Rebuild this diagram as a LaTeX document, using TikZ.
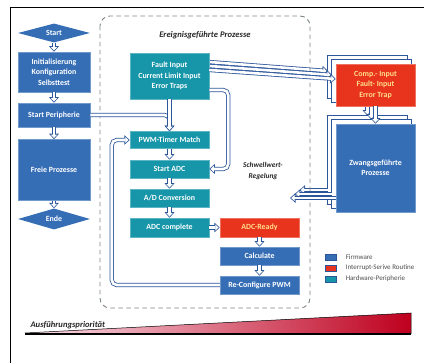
\documentclass[tikz,border=0pt]{standalone}
\usepackage{fontspec}
\setmainfont{Carlito}
\usetikzlibrary{shapes.geometric,arrows.meta,positioning,backgrounds}
\definecolor{fwblue}{RGB}{54,110,182}
\definecolor{hwteal}{RGB}{22,150,168}
\definecolor{isrred}{RGB}{232,52,28}
\definecolor{isrtext}{RGB}{255,222,140}
\definecolor{arrowblue}{RGB}{44,86,154}
\definecolor{dashgray}{RGB}{125,132,132}
\definecolor{prioleft}{RGB}{250,225,235}
\definecolor{priomid}{RGB}{225,50,115}
\definecolor{prioright}{RGB}{190,0,30}
\tikzset{
  box/.style={rectangle, text=white, font=\fontsize{7.9}{10.5}\selectfont\bfseries, align=center, inner sep=0pt, line width=0.5pt},
  fw/.style={box, fill=fwblue, draw=fwblue!70!white},
  hw/.style={box, fill=hwteal, draw=hwteal!70!white},
  isr/.style={box, fill=isrred, draw=isrred!70!white, text=isrtext},
  term/.style={diamond, aspect=4, fill=fwblue, text=white, font=\fontsize{7.9}{9}\selectfont\bfseries, inner sep=0pt, minimum width=72pt, minimum height=19pt},
  ghost/.style={fill=white, draw=arrowblue, line width=0.6pt},
  flow/.style={line width=4.2pt, draw=arrowblue, rounded corners=5pt, -{Triangle[length=5.5pt,width=9.5pt]},
    postaction={draw=white, line width=2.6pt, -{Triangle[length=3.3pt,width=5.8pt]}, shorten >=1.2pt}},
  legend/.style={font=\fontsize{7}{8}\selectfont, text=black!70},
  swatch/.style={rectangle, draw=arrowblue, line width=0.5pt, minimum width=11pt, minimum height=6pt, inner sep=0pt},
  heading/.style={font=\fontsize{8.6}{10}\selectfont\bfseries\itshape, text=black!85},
}
\begin{document}
\begin{tikzpicture}[x=1pt,y=-1pt]
  \useasboundingbox (0,0) rectangle (424,363);
  \draw[line width=1pt] (10,363) |- (424,8);
  % Prioritaet
  \shade[left color=prioleft, middle color=priomid, right color=prioright]
    (25,333) -- (411,313) -- (411,334) -- (25,334) -- cycle;
  \draw[line width=0.5pt] (25,333) -- (411,313) -- (411,334);
  \draw[line width=1.2pt] (25,334) -- (411,334);
  \node[heading, anchor=west] (prio) at (27,325) {Ausführungspriorität};
  % Ereignisse
  \draw[dashgray, line width=0.9pt, dash pattern=on 4.5pt off 3.5pt, rounded corners=10pt] (100,16) rectangle (310,308);
  \node[heading] (title) at (205,35) {Ereignisgeführte Prozesse};
  \node[heading, align=center, font=\fontsize{7.4}{10.5}\selectfont\bfseries\itshape] (regel) at (263,171) {Schwellwert-\\Regelung};

  % Firmware links
  \node[term] (start) at (54,33) {Start};
  \node[fw, minimum width=72pt, minimum height=40pt] (init) at (54,72) {Initialisierung\\Konfiguration\\Selbsttest};
  \node[fw, minimum width=72pt, minimum height=24pt] (peri) at (54,115) {Start Peripherie};
  \node[fw, minimum width=72pt, minimum height=61pt] (free) at (54,170) {Freie Prozesse};
  \node[term, minimum height=21pt] (ende) at (54,219) {Ende};

  % Peripherie
  \node[hw, minimum width=79pt, minimum height=46pt] (fault) at (169.5,76) {Fault Input\\Current Limit Input\\Error Traps};
  \node[hw, minimum width=79pt, minimum height=17pt] (pwm) at (169.5,140) {PWM-Timer Match};
  \node[hw, minimum width=79pt, minimum height=18pt] (sadc) at (169.5,169) {Start ADC};
  \node[hw, minimum width=79pt, minimum height=18pt] (conv) at (169.5,198) {A/D Conversion};
  \node[hw, minimum width=79pt, minimum height=19pt] (cplt) at (169.5,227.5) {ADC complete};
  \node[isr, minimum width=79pt, minimum height=19pt] (ready) at (259.5,227.5) {ADC-Ready};
  \node[fw, minimum width=79pt, minimum height=18pt] (calc) at (259.5,256) {Calculate};
  \node[fw, minimum width=79pt, minimum height=18pt] (reconf) at (259.5,285) {Re-Configure PWM};

  % Zwang
  \node[isr, minimum width=79pt, minimum height=42pt] (comp) at (375.5,85) {Comp.- Input\\Fault- Input\\Error Trap};
  \node[fw, minimum width=79pt, minimum height=88pt] (zwang) at (375.5,168) {Zwangsgeführte\\Prozesse};
  \coordinate (back) at (290,198);

  \begin{scope}[on background layer]
    \foreach \d in {8,4} {
      \draw[ghost] ([shift={(-\d,-\d)}]comp.north west) rectangle ([shift={(-\d,-\d)}]comp.south east);
      \draw[ghost] ([shift={(-\d,-\d)}]zwang.north west) rectangle ([shift={(-\d,-\d)}]zwang.south east);
      \draw[flow] ([shift={(0,-6-\d)}]fault.east) -- ([shift={(-\d,-6-\d)}]comp.west);
      \draw[flow] ([shift={(-\d,-\d)}]comp.south) -- ([shift={(-\d,-\d)}]zwang.north);
      \draw[flow] ([shift={(-\d,30-\d)}]zwang.west) -- ([shift={(1.2*\d,-\d)}]back);
    }
  \end{scope}

  \draw[flow] (start.south) -- (init.north);
  \draw[flow] (init.south) -- (peri.north);
  \draw[flow] (peri.south) -- (free.north);
  \draw[flow] (free.south) -- (ende.north);
  \draw[flow] (peri.east) -| (pwm.north);
  \draw[flow] (fault.south) -- (pwm.north);
  \draw[flow] (pwm.south) -- (sadc.north);
  \draw[flow] (sadc.south) -- (conv.north);
  \draw[flow] (conv.south) -- (cplt.north);
  \draw[flow] (cplt.east) -- (ready.west);
  \draw[flow] (ready.south) -- (calc.north);
  \draw[flow] (calc.south) -- (reconf.north);
  \draw[flow] (reconf.west) -- ++(-108,0) |- (pwm.west);
  \draw[flow] ([yshift=-14pt]fault.east) -- ++(19,0) |- (sadc.east);
  \draw[flow] ([shift={(0,-6)}]fault.east) -- ([shift={(0,-6)}]comp.west);
  \draw[flow] (comp.south) -- (zwang.north);
  \draw[flow] ([shift={(0,30)}]zwang.west) -- (back);

  % Legende
  \node[swatch, fill=fwblue] (legfw) at (330.5,257) {};
  \node[swatch, fill=isrred] (legisr) at (330.5,268) {};
  \node[swatch, fill=hwteal] (leghw) at (330.5,279) {};
  \node[legend, right=6pt of legfw] {Firmware};
  \node[legend, right=6pt of legisr] {Interrupt-Serive Routine};
  \node[legend, right=6pt of leghw] {Hardware-Peripherie};
\end{tikzpicture}
\end{document}
